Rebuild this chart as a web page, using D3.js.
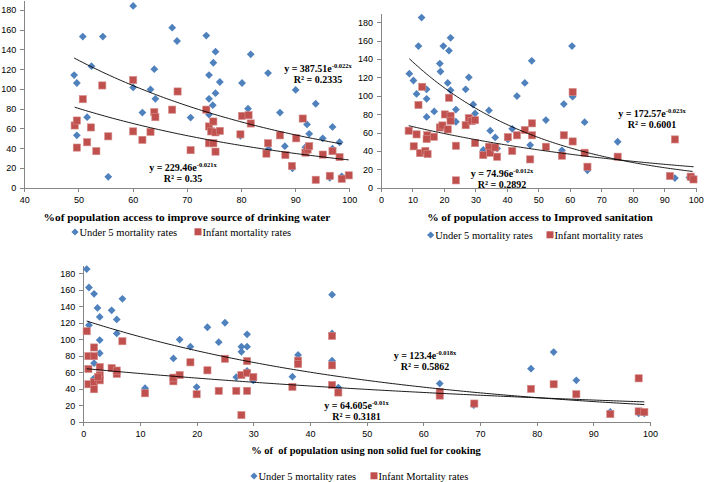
<!DOCTYPE html>
<html>
<head>
<meta charset="utf-8">
<script src="https://cdn.jsdelivr.net/npm/d3@7"></script>
<style>
  body { margin: 0; background: #fff; }
  .axis path, .axis line { stroke: #868686; shape-rendering: crispEdges; }
  .axis text { font-family: "Liberation Sans", Arial, sans-serif; font-size: 9px; fill: #000; }
  .xlabel { font-family: "Liberation Serif", "Times New Roman", serif; font-weight: bold; white-space: pre; }
  .legend { font-family: "Liberation Serif", "Times New Roman", serif; font-size: 10.5px; }
  .eq { font-family: "Liberation Serif", "Times New Roman", serif; font-weight: bold; font-size: 10px; }
</style>
</head>
<body>
<svg id="chart" width="708" height="482"></svg>
<script>
// axis ticks
var yTicks = [0, 20, 40, 60, 80, 100, 120, 140, 160, 180];
var waterTicks = [40, 50, 60, 70, 80, 90, 100];
var pctTicks = [0, 10, 20, 30, 40, 50, 60, 70, 80, 90, 100];

// panel 1: drinking water  [x, rate]
var u5Water = [[49.2,114],[49.7,106],[49.7,53],[50.8,153],[51.6,71.4],[52.4,123],[54.5,153],[55.5,11],
  [60.1,184],[60.1,101.5],[61.8,76],[63.3,99.5],[64.0,120],[64.2,90],[67.3,162],[68.2,148.5],[70.7,71],
  [73.6,154],[74.1,114],[74.1,90],[74.1,74],[74.8,83.5],[74.9,126.5],[75.3,137.7],[75.3,95.7],[76.1,107],
  [79.9,52.4],[80.2,106],[81.3,80],[81.8,135],[85.0,116],[85.1,39],[87.2,76],[88.1,42],[89.5,19.6],
  [90.1,99],[91.9,41],[92.2,64],[92.6,54.5],[93.8,85],[95.1,50],[96.4,10],[96.9,61.5],[96.9,39.6],
  [98.2,46],[98.6,11.5]];
var imrWater = [[49.3,63],[49.7,68],[49.7,40.6],[50.8,89.6],[51.6,46],[52.3,61],[53.3,37],[54.4,103.5],
  [55.5,52],[60.1,109],[60.1,57],[61.8,48.4],[63.3,56.5],[64.0,76.5],[64.2,71.4],[67.3,79],[68.3,97.4],
  [70.7,38],[73.6,79],[74.1,62],[74.1,45],[74.5,57],[74.9,67],[74.9,45],[75.3,56],[75.3,36.5],[76.1,57.5],
  [79.9,54],[80.2,72.7],[81.4,73.4],[81.8,65],[85.0,45],[84.7,34.5],[87.2,53],[88.2,33],[89.4,22],
  [90.2,50],[91.4,70],[91.9,35.5],[92.3,38.6],[92.6,42],[93.8,8],[95.1,33.5],[96.4,12],[96.9,37],
  [98.2,31],[98.6,9],[99.9,12.5]];

// panel 2: sanitation
var u5San = [[9.0,124],[10.3,116.6],[11.9,154],[11.3,102],[12.9,185],[14.5,107],[14.5,96.7],[14.5,77],
  [16.9,83],[18.7,135],[18.9,126.4],[19.8,154],[21.2,114],[21.6,149],[22.1,163],[22.1,106],[23.8,85],
  [23.8,71.7],[26.9,107],[27.9,120],[29.3,90.5],[29.9,80.8],[32.5,41],[34.3,84],[34.7,62],[36.3,54.7],
  [36.9,42.7],[40.3,52.5],[41.7,64],[43.2,99.6],[45.7,114],[47.4,46.4],[47.9,138],[52.4,73.5],[57.5,40.6],
  [58.1,91],[60.7,154],[60.9,99],[64.7,71.3],[65.6,19],[75.2,50],[93.4,10.5],[98.0,11],[99.0,12]];
var imrSan = [[8.8,62],[10.4,45],[11.3,58],[11.9,90],[12.4,37.7],[13.1,109.7],[14.1,40],[14.7,57],[14.5,53],
  [14.8,36.6],[16.8,55.4],[18.7,65.5],[19.5,67.7],[20.3,79.7],[21.2,63.4],[21.6,97.8],[22.1,78.2],[22.1,72.8],
  [23.8,45.6],[23.8,8],[26.9,68],[27.9,75.7],[28.8,72.4],[29.9,73.5],[29.9,48.5],[32.5,35.5],[34.3,44.5],
  [34.7,38],[36.3,43.8],[36.9,33.7],[40.3,55],[41.7,40],[43.2,57],[45.7,62.7],[47.4,30.8],[48,70],[48,57],
  [52.4,44.5],[57.5,34.8],[58.1,57],[60.9,50.3],[60.9,104],[64.7,38],[65.6,22.8],[75.2,33.7],[91.8,12.7],
  [93.4,52.5],[98.4,12],[99.3,9]];

// panel 3: non solid fuel
var u5Fuel = [[0.6,185],[1.0,162.7],[1.0,117],[1.9,155],[2.5,138],[2.9,127],[2.9,99],[2.9,83],[1.9,71],
  [1.8,52],[5.0,135],[5.9,124],[5.9,107],[6.9,149],[10.9,40.6],[15.9,76.7],[17,99.6],[18.9,91],[20,42],
  [21.9,114.5],[23.9,96.4],[25,120],[27,54],[27.9,91],[27.9,84.8],[28.9,106],[28.9,91],[28.9,61.5],[30,50],
  [36.9,54.6],[37.9,81],[43.9,154],[43.9,107],[43.9,74],[45,41.4],[62.9,46.2],[68.9,20],[79,64.3],
  [83,84.4],[87,50.2],[93,12],[98,10],[99,10]];
var imrFuel = [[0.6,109.7],[0.9,79.5],[0.9,64],[0.9,45.4],[1.9,90],[1.9,79.5],[1.9,48.2],[1.9,39.4],[2.9,66.3],
  [2.9,56.6],[2.9,50.2],[2.6,54],[5,65],[5.9,58],[5.9,62],[6.9,97.6],[10.9,34.5],[15.9,49],[15.9,53.4],
  [17,56.6],[18.9,72],[20,33.3],[21.9,62.3],[23.9,37.4],[25,76.3],[27,37.4],[27.9,8],[27.9,56.6],[28.9,73.5],
  [28.9,37.4],[28.9,59],[30,54.2],[36.9,42.2],[37.9,74],[37.9,70],[43.9,104],[43.9,68.3],[43.9,44.6],
  [45,35.4],[62.9,36],[62.9,31.7],[69,22],[79,39.8],[83,45.4],[87,33.3],[93,9.2],[98,52.6],[98,12.5],[99,11.7]];

// exponential trendlines: [a, b, R2]  y = a*e^(b x)
var fitU5Water = [387.51, -0.022, "0.2335"], fitImrWater = [229.46, -0.021, "0.35"];
var fitU5San = [172.57, -0.023, "0.6001"], fitImrSan = [74.96, -0.012, "0.2892"];
var fitU5Fuel = [123.4, -0.018, "0.5862"], fitImrFuel = [64.605, -0.01, "0.3181"];

var blue = "#4F81BD", red = "#C0504D";
var svg = d3.select("#chart");

function diamond(sel, cx, cy, r) {
  sel.append("path")
    .attr("d", "M" + cx + "," + (cy - r) + "L" + (cx + r) + "," + cy + "L" + cx + "," + (cy + r) + "L" + (cx - r) + "," + cy + "Z")
    .attr("fill", blue);
}

function drawPanel(p) {
  var x = d3.scaleLinear().domain(p.xDomain).range([p.left, p.right]);
  var y = d3.scaleLinear().domain([0, 190]).range([p.bottom, p.top]);
  var g = svg.append("g");

  g.append("g").attr("class", "axis")
    .attr("transform", "translate(" + p.left + ",0)")
    .call(d3.axisLeft(y).tickValues(yTicks).tickSize(4).tickSizeOuter(0).tickPadding(4));
  g.append("g").attr("class", "axis")
    .attr("transform", "translate(0," + p.bottom + ")")
    .call(d3.axisBottom(x).tickValues(p.xTicks).tickSize(4).tickSizeOuter(0).tickPadding(5));

  // under 5 (diamonds)
  g.selectAll(".u5").data(p.u5).enter().append("path")
    .attr("class", "u5")
    .attr("d", function(d) {
      var cx = x(d[0]), cy = y(d[1]), r = 3.9;
      return "M" + cx + "," + (cy - r) + "L" + (cx + r) + "," + cy + "L" + cx + "," + (cy + r) + "L" + (cx - r) + "," + cy + "Z";
    })
    .attr("fill", blue);

  // infant (squares)
  g.selectAll(".imr").data(p.imr).enter().append("rect")
    .attr("class", "imr")
    .attr("x", function(d) { return x(d[0]) - 3.6; })
    .attr("y", function(d) { return y(d[1]) - 3.6; })
    .attr("width", 7.2).attr("height", 7.2)
    .attr("fill", red)
    .attr("stroke", "#d58e8c").attr("stroke-width", 0.6);

  // trendlines
  [[p.fitU5, p.u5], [p.fitImr, p.imr]].forEach(function(f) {
    var ext = d3.extent(f[1], function(d) { return d[0]; });
    var xs = d3.range(ext[0], ext[1], 0.5).concat([ext[1]]);
    g.append("path")
      .datum(xs)
      .attr("fill", "none")
      .attr("stroke", "#000")
      .attr("stroke-width", 0.9)
      .attr("d", d3.line()
        .x(function(v) { return x(v); })
        .y(function(v) { return y(f[0][0] * Math.exp(f[0][1] * v)); }));
  });

  // equations
  p.eqs.forEach(function(e) {
    var t = g.append("text").attr("class", "eq").attr("x", e.x).attr("y", e.y).attr("text-anchor", "middle");
    t.append("tspan").text("y = " + e.fit[0] + "e");
    t.append("tspan").attr("dy", -4).attr("font-size", "6.5px").text(e.fit[1] + "x");
    g.append("text").attr("class", "eq").attr("x", e.x).attr("y", e.y + 11).attr("text-anchor", "middle")
      .text("R\u00b2 = " + e.fit[2]);
  });

  g.append("text").attr("class", "xlabel")
    .attr("x", p.labelX).attr("y", p.labelY).attr("text-anchor", "middle")
    .attr("font-size", p.labelSize + "px").text(p.label);

  // legend
  diamond(g, p.legX1, p.legY - 3.5, 3.6);
  g.append("text").attr("class", "legend").attr("x", p.legX1 + 4.5).attr("y", p.legY).text("Under 5 mortality rates");
  g.append("rect").attr("x", p.legX2 - 3.5).attr("y", p.legY - 7.2).attr("width", 7).attr("height", 7).attr("fill", red);
  g.append("text").attr("class", "legend").attr("x", p.legX2 + 4.5).attr("y", p.legY).text(p.imrName);
}

drawPanel({
  xDomain: [40, 100], xTicks: waterTicks, left: 24.3, right: 349.3, bottom: 187.7, top: 0,
  u5: u5Water, imr: imrWater, fitU5: fitU5Water, fitImr: fitImrWater,
  eqs: [{ x: 318, y: 72, fit: fitU5Water }, { x: 183, y: 170.5, fit: fitImrWater }],
  label: "%of population access to improve source of drinking water", labelX: 187, labelY: 221, labelSize: 11.4,
  legX1: 75, legX2: 198, legY: 235.5, imrName: "Infant mortality rates"
});

drawPanel({
  xDomain: [0, 100], xTicks: pctTicks, left: 381, right: 695.7, bottom: 187.7, top: 13,
  u5: u5San, imr: imrSan, fitU5: fitU5San, fitImr: fitImrSan,
  eqs: [{ x: 652, y: 116.5, fit: fitU5San }, { x: 502, y: 176.5, fit: fitImrSan }],
  label: "% of population access to Improved sanitation", labelX: 540, labelY: 221, labelSize: 11.4,
  legX1: 430.7, legX2: 550, legY: 238.5, imrName: "Infant mortality rates"
});

drawPanel({
  xDomain: [0, 100], xTicks: pctTicks, left: 83.3, right: 650, bottom: 421.7, top: 265,
  u5: u5Fuel, imr: imrFuel, fitU5: fitU5Fuel, fitImr: fitImrFuel,
  eqs: [{ x: 425, y: 358.5, fit: fitU5Fuel }, { x: 356.5, y: 409, fit: fitImrFuel }],
  label: "% of  of population using non solid fuel for cooking", labelX: 366, labelY: 454, labelSize: 10.5,
  legX1: 254, legX2: 374, legY: 479.5, imrName: "Infant Mortality rates"
});
</script>
</body>
</html>
